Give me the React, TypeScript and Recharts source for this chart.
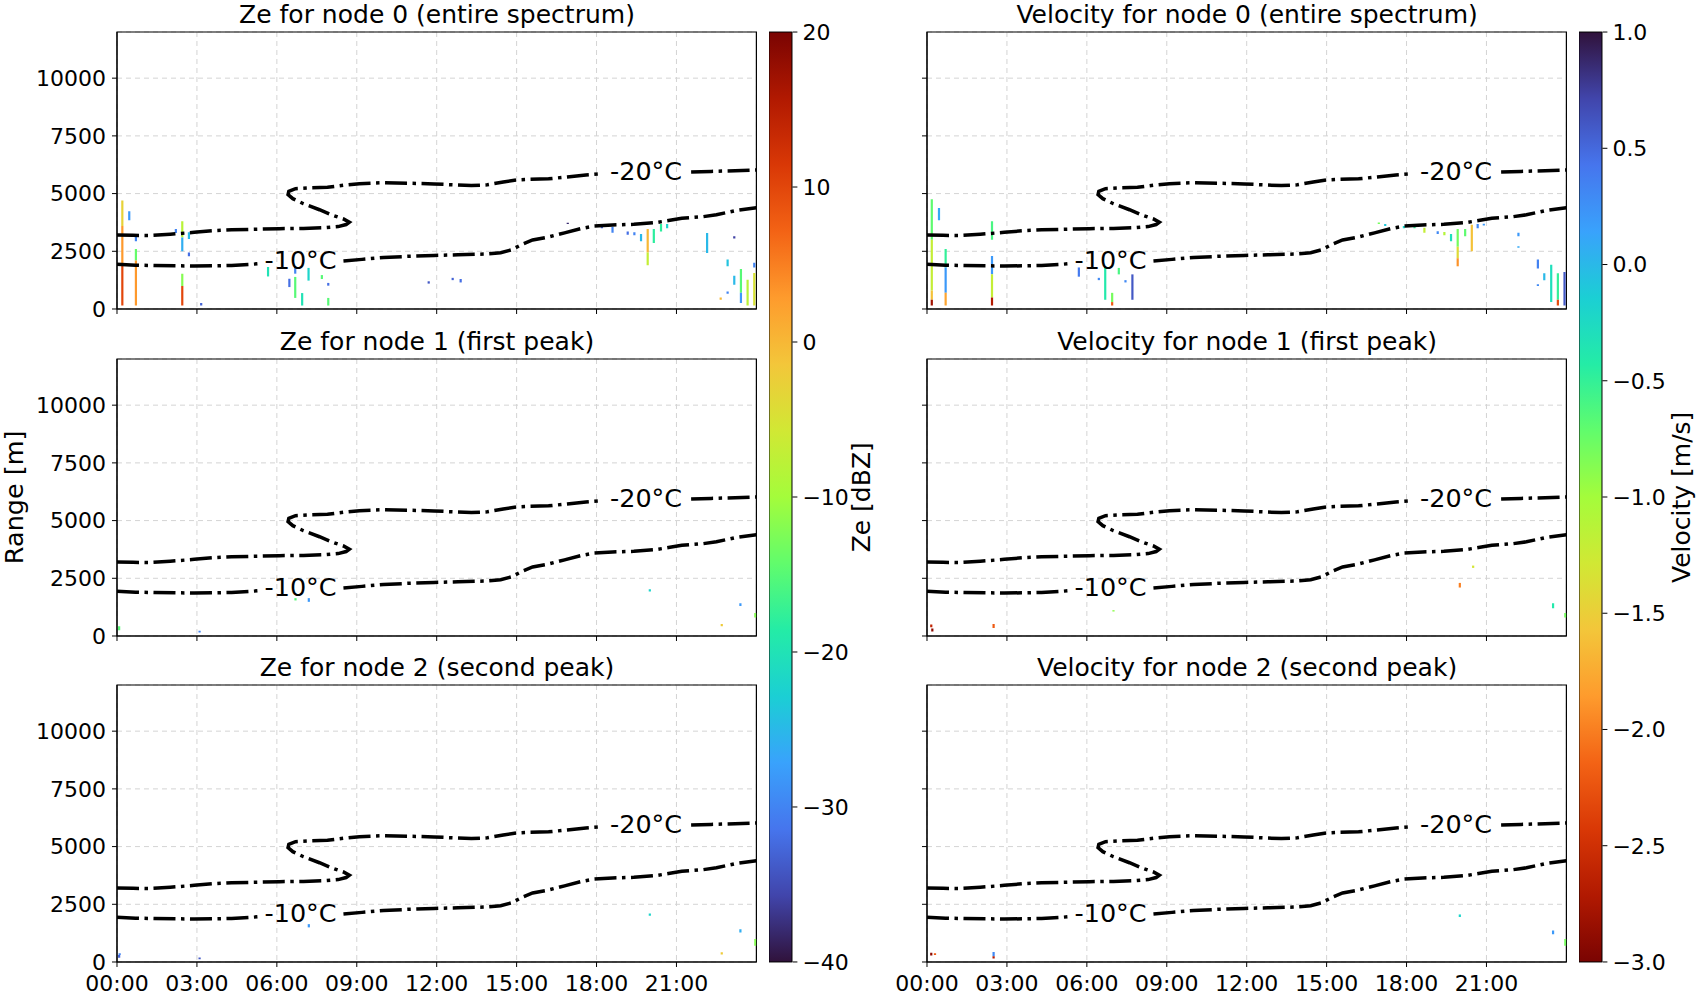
import {
  Bar,
  BarChart,
  CartesianGrid,
  Line,
  LineChart,
  ReferenceArea,
  ReferenceDot,
  XAxis,
  YAxis,
} from 'recharts'

// isotherm contours, [hour, range m]; each split where the inline label sits
const ISO_M20_A: [number, number][] = [
  [0, 3210], [0.6, 3190], [1.2, 3185], [2.0, 3240], [2.9, 3320], [3.6, 3390], [4.3, 3430],
  [5.2, 3455], [6.1, 3480], [7.0, 3490], [7.8, 3520], [8.3, 3570], [8.6, 3660], [8.72, 3760],
  [8.5, 3900], [8.1, 4060], [7.6, 4300], [7.0, 4560], [6.6, 4780], [6.42, 4960], [6.45, 5100],
  [6.7, 5210], [7.3, 5250], [7.9, 5270], [8.5, 5360], [9.1, 5430], [9.9, 5470], [10.9, 5450],
  [11.9, 5420], [12.6, 5380], [13.3, 5345], [13.9, 5380], [14.5, 5500], [15.0, 5590],
  [15.5, 5620], [16.2, 5640], [16.9, 5720], [17.6, 5810], [18.25, 5870],
]
const ISO_M20_B: [number, number][] = [[21.55, 5930], [22.3, 5960], [23.2, 5990], [24, 6020]]
const ISO_M10_A: [number, number][] = [
  [0, 1935], [0.7, 1900], [1.4, 1880], [2.2, 1870], [2.9, 1865], [3.6, 1870], [4.3, 1885],
  [5.0, 1930], [5.4, 1970],
]
const ISO_M10_B: [number, number][] = [
  [8.5, 2080], [9.2, 2150], [10.0, 2230], [10.9, 2280], [11.9, 2320], [12.8, 2350], [13.8, 2380],
  [14.4, 2440], [14.8, 2560], [15.2, 2800], [15.6, 2990], [16.2, 3120], [16.8, 3300], [17.4, 3480],
  [17.9, 3590], [18.6, 3640], [19.4, 3670], [20.2, 3740], [20.7, 3830], [21.2, 3930], [22.0, 4000],
  [22.5, 4080], [23.2, 4260], [24, 4390],
]
const ISO_LABELS: [number, number, string][] = [
  [19.86, 6000, '-20°C'],
  [6.89, 2105, '-10°C'],
]

// radar returns as vertical streaks: [hour, bottom m, top m, value]
const ZE_NODE0: [number, number, number, number][] = [
  [0.2, 3600, 4700, -3], [0.2, 1900, 3600, 3], [0.2, 150, 1900, 10], [0.46, 3840, 4230, -28],
  [0.71, 2930, 3180, -30], [0.71, 2100, 2600, -14], [0.71, 150, 2100, 3], [2.21, 3290, 3470, -30],
  [2.45, 3100, 3800, -8], [2.45, 2500, 3100, -26], [2.45, 1000, 1530, -12], [2.45, 150, 1000, 10],
  [2.7, 3030, 3320, -25], [2.7, 2280, 2450, -32], [3.16, 150, 260, -33], [5.67, 1410, 1820, -20],
  [6.47, 950, 1310, -32], [6.69, 1530, 1820, -30], [6.69, 480, 1390, -15], [6.95, 150, 690, -20],
  [7.19, 1230, 1780, -22], [7.69, 1300, 1470, -15], [7.93, 1010, 1130, -32], [7.93, 150, 480, -15],
  [11.7, 1100, 1200, -34], [12.6, 1250, 1350, -33], [12.9, 1150, 1300, -32], [16.92, 3680, 3740, -38],
  [18.2, 3500, 3600, -33], [18.6, 3300, 3550, -30], [19.17, 3220, 3360, -32], [19.42, 3200, 3330, -30],
  [19.67, 2930, 3250, -25], [19.92, 2450, 3470, 0], [19.92, 1900, 2450, -7], [20.15, 2860, 3470, -18],
  [20.42, 3360, 3680, -18], [20.65, 3500, 3680, -22], [22.15, 2430, 3290, -25], [22.92, 1850, 2140, -24],
  [22.92, 660, 760, -30], [22.66, 400, 500, 0], [23.17, 3050, 3150, -36], [23.17, 1050, 1440, -25],
  [23.42, 700, 1730, -15], [23.42, 260, 700, -28], [23.67, 150, 1270, -8], [23.92, 150, 1560, -5],
  [23.92, 1800, 2000, -30],
]
const ZE_NODE1: [number, number, number, number][] = [
  [0.08, 250, 420, -15], [3.1, 150, 230, -30], [6.7, 1540, 1640, -15], [7.2, 1480, 1640, -28],
  [20.0, 1930, 2020, -22], [22.7, 420, 520, -2], [23.4, 1300, 1420, -28], [23.96, 800, 1000, -12],
]
const ZE_NODE2: [number, number, number, number][] = [
  [0.08, 180, 300, -33], [0.1, 300, 380, -30], [3.1, 120, 200, -34], [7.2, 1500, 1640, -28],
  [20.0, 2000, 2100, -22], [22.7, 330, 420, -2], [23.4, 1280, 1420, -26], [23.96, 700, 1000, -12],
]
const VEL_NODE0: [number, number, number, number][] = [
  [0.18, 3000, 4750, -0.7], [0.18, 800, 3000, -1.2], [0.18, 400, 800, -1.6], [0.18, 150, 400, -2.8],
  [0.45, 3850, 4380, 0.1], [0.7, 1800, 2600, -0.5], [0.7, 700, 1800, 0.2], [0.7, 150, 700, -1.8],
  [2.44, 3000, 3800, -0.6], [2.44, 1500, 2300, 0.2], [2.44, 500, 1500, -1.2], [2.44, 150, 500, -2.7],
  [5.7, 1400, 1800, 0.4], [6.45, 1250, 1350, 0.3], [6.69, 400, 1820, -0.4], [6.95, 300, 700, -0.8],
  [6.95, 150, 300, -2.2], [7.2, 1500, 1780, -0.6], [7.45, 1150, 1250, 0.3], [7.71, 400, 1500, 0.6],
  [16.96, 3680, 3750, -0.8], [17.2, 3600, 3680, -0.1], [17.9, 3500, 3600, -0.2], [18.3, 3500, 3560, -0.5],
  [18.67, 3300, 3520, -1.2], [19.17, 3250, 3370, 0.3], [19.42, 3200, 3340, -1.1], [19.67, 2930, 3250, -0.3],
  [19.92, 2700, 3470, -0.8], [19.92, 2200, 2700, -1.4], [19.92, 1850, 2200, -1.9], [20.2, 3150, 3470, -0.7],
  [20.45, 2500, 3650, -1.6], [20.67, 3500, 3680, 0.3], [20.9, 3620, 3690, 0.2], [22.2, 3150, 3300, 0.2],
  [22.2, 2650, 2720, 0.1], [22.93, 1750, 2140, 0.35], [22.93, 1000, 1070, 0.3], [23.17, 1250, 1550, 0.0],
  [23.43, 300, 1920, -0.3], [23.68, 400, 1550, -0.5], [23.68, 150, 400, -2.3], [23.93, 150, 1600, 0.6],
]
const VEL_NODE1: [number, number, number, number][] = [
  [0.16, 380, 500, -2.6], [0.2, 200, 320, -2.9], [2.5, 350, 520, -2.2], [7.0, 1060, 1120, -0.9],
  [7.9, 1760, 1820, 0.0], [20.0, 2100, 2300, -2.0], [20.5, 2950, 3050, -1.3], [23.5, 1200, 1420, -0.4],
  [23.96, 800, 1000, -0.8],
]
const VEL_NODE2: [number, number, number, number][] = [
  [0.16, 280, 400, -2.9], [0.3, 300, 380, -2.2], [2.5, 250, 430, 0.3], [2.5, 150, 250, -2.7],
  [20.0, 1950, 2060, -0.2], [23.5, 1200, 1360, 0.2], [23.96, 700, 1000, -0.8],
]

const HOUR_TICKS = [0, 3, 6, 9, 12, 15, 18, 21]
const RANGE_TICKS = [0, 2500, 5000, 7500, 10000]
const ZE_TICKS = [-40, -30, -20, -10, 0, 10, 20]
const VEL_TICKS = [-3, -2.5, -2, -1.5, -1, -0.5, 0, 0.5, 1]

const TURBO = [
  '#30123b', '#4145ab', '#4675ed', '#39a2fc', '#1bcfd4', '#24eca6', '#61fc6c', '#a4fc3b',
  '#d1e834', '#f3c63a', '#fe9b2d', '#f36315', '#d93806', '#b11901', '#7a0402',
]

const FONT = '"DejaVu Sans", sans-serif'
const GRID = '#d4d4d4'
const LEFT_X = 117.3
const RIGHT_X = 927.4
const PLOT_W = 639.4
const PLOT_H = 277
const ROW_TOP = [32.3, 358.8, 685.3]
const YW = 110
const MT = 5
const MR = 5
const XH = 45
const CB_W = 23.4
const CB_TOP = 32.3
const CB_H = 930

function rgb(hex: string) {
  return [1, 3, 5].map((i) => parseInt(hex.slice(i, i + 2), 16))
}

function turbo(t: number) {
  const c = Math.min(1, Math.max(0, t)) * (TURBO.length - 1)
  const i = Math.min(TURBO.length - 2, Math.floor(c))
  const f = c - i
  const a = rgb(TURBO[i])
  const b = rgb(TURBO[i + 1])
  const m = a.map((v, k) => Math.round(v + (b[k] - v) * f))
  return `rgb(${m[0]},${m[1]},${m[2]})`
}

const zeColor = (v: number) => turbo((v + 40) / 60)
const velColor = (v: number) => turbo((1 - v) / 4)
const hourFmt = (h: number) => `${String(h).padStart(2, '0')}:00`
const blank = () => ''
const minus = (s: string) => s.replace('-', '\u2212')

const toPts = (arr: [number, number][]) => arr.map(([h, m]) => ({ h, m }))

function Panel({
  left,
  top,
  streaks,
  color,
  yLabels,
  xLabels,
}: {
  left: number
  top: number
  streaks: [number, number, number, number][]
  color: (v: number) => string
  yLabels: boolean
  xLabels: boolean
}) {
  const tickStyle = { fontSize: 22, fill: '#000' }
  return (
    <div style={{ position: 'absolute', left: left - YW, top: top - MT }}>
      <LineChart
        width={YW + PLOT_W + MR}
        height={MT + PLOT_H + XH}
        margin={{ top: MT, right: MR, bottom: 0, left: 0 }}
      >
        <CartesianGrid stroke={GRID} strokeDasharray="5 4" />
        <XAxis
          type="number"
          dataKey="h"
          domain={[0, 24]}
          ticks={HOUR_TICKS}
          interval={0}
          allowDataOverflow
          tickFormatter={xLabels ? hourFmt : blank}
          tick={tickStyle}
          tickLine={{ stroke: '#000' }}
          axisLine={{ stroke: '#000' }}
          tickSize={5}
          tickMargin={8}
          height={XH}
        />
        <YAxis
          type="number"
          dataKey="m"
          domain={[0, 12000]}
          ticks={RANGE_TICKS}
          interval={0}
          allowDataOverflow
          tickFormatter={yLabels ? String : blank}
          tick={tickStyle}
          tickLine={{ stroke: '#000' }}
          axisLine={{ stroke: '#000' }}
          tickSize={5}
          tickMargin={6}
          width={YW}
        />
        <ReferenceArea x1={0} x2={24} y1={0} y2={12000} fill="none" stroke="#000" strokeWidth={1.2} />
        {streaks.map(([h, lo, hi, v], i) => (
          <Line
            key={`s${i}`}
            data={[{ h, m: lo }, { h, m: hi }]}
            dataKey="m"
            type="linear"
            stroke={color(v)}
            strokeWidth={2.2}
            dot={false}
            activeDot={false}
            isAnimationActive={false}
          />
        ))}
        {[ISO_M20_A, ISO_M20_B, ISO_M10_A, ISO_M10_B].map((iso, i) => (
          <Line
            key={`iso${i}`}
            data={toPts(iso)}
            dataKey="m"
            type="linear"
            stroke="#000"
            strokeWidth={3.5}
            strokeDasharray="22 5.5 3.5 5.5"
            dot={false}
            activeDot={false}
            isAnimationActive={false}
          />
        ))}
        {ISO_LABELS.map(([h, m, text]) => (
          <ReferenceDot
            key={text}
            x={h}
            y={m}
            r={0}
            stroke="none"
            fill="none"
            label={{ value: text, position: 'center', fontSize: 25.5, fill: '#000' }}
          />
        ))}
      </LineChart>
    </div>
  )
}

function Colorbar({
  left,
  id,
  domain,
  ticks,
  stops,
  fmt,
}: {
  left: number
  id: string
  domain: [number, number]
  ticks: number[]
  stops: string[]
  fmt: (v: number) => string
}) {
  return (
    <div style={{ position: 'absolute', left, top: CB_TOP - 15 }}>
      <BarChart
        width={CB_W + 80}
        height={CB_H + 30}
        data={[{ name: id, span: domain }]}
        margin={{ top: 15, right: 0, bottom: 15, left: 0 }}
        barCategoryGap={0}
      >
        <defs>
          <linearGradient id={id} x1="0" y1="0" x2="0" y2="1">
            {stops.map((c, i) => (
              <stop key={i} offset={`${(i / (stops.length - 1)) * 100}%`} stopColor={c} />
            ))}
          </linearGradient>
        </defs>
        <XAxis dataKey="name" hide height={0} />
        <YAxis
          orientation="right"
          type="number"
          domain={domain}
          ticks={ticks}
          interval={0}
          width={80}
          tickFormatter={fmt}
          tick={{ fontSize: 22, fill: '#000' }}
          tickLine={{ stroke: '#000' }}
          axisLine={false}
          tickSize={5}
          tickMargin={5}
        />
        <Bar dataKey="span" fill={`url(#${id})`} stroke="#000" strokeWidth={1} isAnimationActive={false} />
      </BarChart>
    </div>
  )
}

const ZE_PANELS = [
  { title: 'Ze for node 0 (entire spectrum)', streaks: ZE_NODE0 },
  { title: 'Ze for node 1 (first peak)', streaks: ZE_NODE1 },
  { title: 'Ze for node 2 (second peak)', streaks: ZE_NODE2 },
]
const VEL_PANELS = [
  { title: 'Velocity for node 0 (entire spectrum)', streaks: VEL_NODE0 },
  { title: 'Velocity for node 1 (first peak)', streaks: VEL_NODE1 },
  { title: 'Velocity for node 2 (second peak)', streaks: VEL_NODE2 },
]

export default function App() {
  const midY = CB_TOP + CB_H / 2
  return (
    <div
      style={{
        position: 'fixed',
        left: 0,
        top: 0,
        width: 1700,
        height: 1000,
        background: '#fff',
        fontFamily: FONT,
        color: '#000',
      }}
    >
      {ZE_PANELS.map((p, r) => (
        <Panel
          key={p.title}
          left={LEFT_X}
          top={ROW_TOP[r]}
          streaks={p.streaks}
          color={zeColor}
          yLabels
          xLabels={r === 2}
        />
      ))}
      {VEL_PANELS.map((p, r) => (
        <Panel
          key={p.title}
          left={RIGHT_X}
          top={ROW_TOP[r]}
          streaks={p.streaks}
          color={velColor}
          yLabels={false}
          xLabels={r === 2}
        />
      ))}
      <Colorbar
        left={769.3}
        id="zeGrad"
        domain={[-40, 20]}
        ticks={ZE_TICKS}
        stops={[...TURBO].reverse()}
        fmt={(v) => minus(String(v))}
      />
      <Colorbar
        left={1579.3}
        id="velGrad"
        domain={[-3, 1]}
        ticks={VEL_TICKS}
        stops={TURBO}
        fmt={(v) => minus(v.toFixed(1))}
      />
      <svg
        width={1700}
        height={1000}
        style={{ position: 'absolute', left: 0, top: 0, pointerEvents: 'none', fontFamily: FONT }}
      >
        {ZE_PANELS.map((p, r) => (
          <text key={p.title} x={LEFT_X + PLOT_W / 2} y={ROW_TOP[r] - 9} fontSize={25} textAnchor="middle">
            {p.title}
          </text>
        ))}
        {VEL_PANELS.map((p, r) => (
          <text key={p.title} x={RIGHT_X + PLOT_W / 2} y={ROW_TOP[r] - 9} fontSize={25} textAnchor="middle">
            {p.title}
          </text>
        ))}
        <text transform={`translate(23, ${midY}) rotate(-90)`} fontSize={25.5} textAnchor="middle">
          Range [m]
        </text>
        <text transform={`translate(870, ${midY}) rotate(-90)`} fontSize={25} textAnchor="middle">
          Ze [dBZ]
        </text>
        <text transform={`translate(1690, ${midY}) rotate(-90)`} fontSize={25} textAnchor="middle">
          Velocity [m/s]
        </text>
      </svg>
    </div>
  )
}
